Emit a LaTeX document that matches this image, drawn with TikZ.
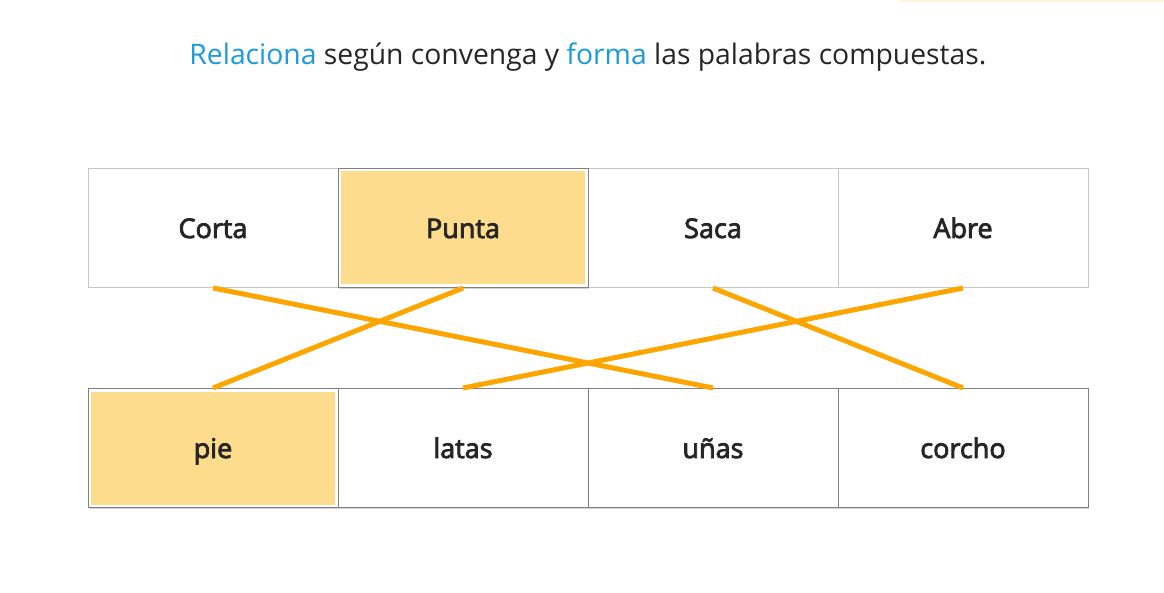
\documentclass[tikz,border=0pt]{standalone}
\usepackage{fontspec}
\setmainfont{Open Sans}
\newfontfamily\seminegra{Open Sans}[FakeBold=3]
\usetikzlibrary{shadows}

\definecolor{linea}{HTML}{FFA500}
\definecolor{marca}{HTML}{FDDC8E}
\definecolor{azul}{HTML}{1A9BDB}
\definecolor{texto}{HTML}{262626}

\tikzset{
  box/.style={draw=black!22, line width=1pt, fill=white, minimum width=250pt, minimum height=119pt,
    inner sep=0pt, text height=27pt, text depth=7pt, text=texto, font=\seminegra\fontsize{27}{32}\selectfont},
  boxsel/.style={box, draw=black!50, drop shadow={shadow xshift=1.2pt, shadow yshift=-1.2pt, opacity=.35}},
  boxmark/.style={boxsel, path picture={\fill[marca] ([shift={(3pt,-3pt)}]path picture bounding box.north west)
    rectangle ([shift={(-3pt,3pt)}]path picture bounding box.south east);}},
  enlace/.style={linea, line width=5pt}
}

\begin{document}
\begin{tikzpicture}[x=1pt,y=-1pt]
        \useasboundingbox (0,0) rectangle (1164,593);
        \fill[linea!12] (900,0) rectangle (1164,2);
        \node[text=texto, font=\fontsize{28.3}{32}\selectfont] (titulo) at (588,57)
            {\textcolor{azul}{Relaciona} según convenga y \textcolor{azul}{forma} las palabras compuestas.};

        % fila de arriba
        \node[box] (corta) at (213,228) {Corta};
        \node[box] (saca) at (713,228) {Saca};
        \node[box] (abre) at (963,228) {Abre};
        \node[boxmark] (punta) at (463,228) {Punta};

        % fila de abajo
        \node[boxmark] (pie) at (213,448) {pie};
        \node[boxsel] (latas) at (463,448) {latas};
        \node[boxsel] (unas) at (713,448) {uñas};
        \node[boxsel] (corcho) at (963,448) {corcho};

        \draw[enlace](corta.south)--(unas.north);
        \draw[enlace](punta.south)--(pie.north);
        \draw[enlace](saca.south)--(corcho.north);
        \draw[enlace](abre.south)--(latas.north);
    \end{tikzpicture}
\end{document}
